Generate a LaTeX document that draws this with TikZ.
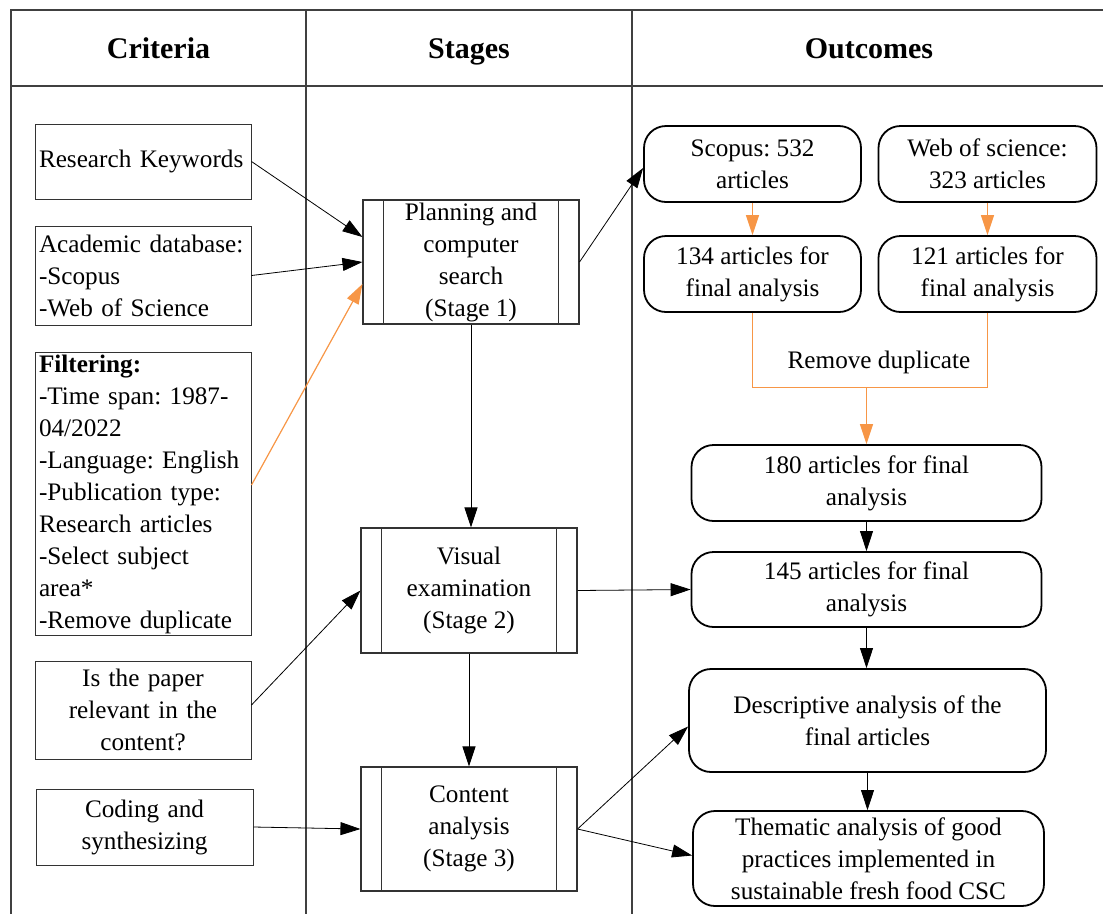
\documentclass[tikz,border=0pt]{standalone}
\usepackage{fontspec}
\setmainfont{Liberation Serif}
\usetikzlibrary{arrows.meta}
\definecolor{orng}{HTML}{F79646}
\definecolor{gridc}{HTML}{404040}
\begin{document}
\frenchspacing
\begin{tikzpicture}[x=1pt,y=-1pt,
  every node/.style={font=\fontsize{25.2pt}{32pt}\selectfont, inner sep=0pt},
  head/.style={font=\fontsize{30pt}{36pt}\selectfont\bfseries, anchor=base},
  lbox/.style={draw=black!80, line width=1pt, inner xsep=4pt, inner ysep=2pt},
  stagebox/.style={draw=black!80, line width=1.1pt, minimum width=216pt, align=center},
  obox/.style={draw=black, line width=1.8pt, rounded corners=22pt, align=center},
  conn/.style={-{Triangle[length=20pt,width=13pt]}, line width=0.8pt},
  oconn/.style={conn, draw=orng, line width=1.2pt},
  oline/.style={draw=orng, line width=1.2pt}]
\useasboundingbox (0,0) rectangle (1103,914);

% table
\draw[gridc, line width=1.1pt] (1103,10) -- (11,10) -- (11,914);
\draw[gridc, line width=1.1pt] (11,86) -- (1103,86);
\draw[gridc, line width=1.1pt] (306,10) -- (306,914);
\draw[gridc, line width=1.1pt] (632,10) -- (632,914);
\node[head] (hc) at (158.5,58) {Criteria};
\node[head] (hs) at (469,58) {Stages};
\node[head] (ho) at (869,58) {Outcomes};

% criteria
\node[lbox, minimum height=75pt, text width=208pt, align=left] (rk) at (143,161.5) {Research Keywords};
\node[lbox, minimum height=99pt, text width=208pt, align=left] (ad) at (143,275.5) {Academic database:\\-Scopus\\-Web of Science};
\node[lbox, inner ysep=0pt, minimum height=283pt, text width=208pt, align=left] (filt) at (143,494) {\textbf{Filtering:}\\-Time span: 1987-\\04/2022\\-Language: English\\-Publication type:\\Research articles\\-Select subject\\area*\\-Remove duplicate};
\node[lbox, minimum height=98pt, text width=208pt, align=center] (paper) at (143,710) {Is the paper\\relevant in the\\content?};
\node[lbox, minimum height=76pt, text width=209pt, align=center] (coding) at (144.5,827) {Coding and\\synthesizing};

% stages
\node[stagebox, minimum height=124pt] (s1) at (471,262) {Planning and\\computer\\search\\(Stage 1)};
\node[stagebox, minimum height=125pt] (s2) at (469,590.5) {Visual\\examination\\(Stage 2)};
\node[stagebox, minimum height=124pt] (s3) at (469,829) {Content\\analysis\\(Stage 3)};
\foreach \s in {s1,s2,s3}{
  \draw[black!80, line width=1pt] ([xshift=21pt]\s.north west) -- ([xshift=21pt]\s.south west);
  \draw[black!80, line width=1pt] ([xshift=-21pt]\s.north east) -- ([xshift=-21pt]\s.south east);
}

% outcomes
\node[obox, minimum width=217pt, minimum height=76pt] (scopus) at (752.5,164) {Scopus: 532\\articles};
\node[obox, minimum width=218pt, minimum height=76pt] (wos) at (987.5,164) {Web of science:\\323 articles};
\node[obox, minimum width=217pt, minimum height=76pt] (a134) at (752.5,274) {134 articles for\\final analysis};
\node[obox, minimum width=218pt, minimum height=76pt] (a121) at (987.5,274) {121 articles for\\final analysis};
\node (rdl) at (879,362) {Remove duplicate};
\coordinate (rdj) at (866.5,387.5);
\node[obox, minimum width=350pt, minimum height=76pt] (a180) at (866.5,483) {180 articles for final\\analysis};
\node[obox, minimum width=350pt, minimum height=75pt] (a145) at (866.5,589.5) {145 articles for final\\analysis};
\node[obox, minimum width=357pt, minimum height=103pt] (desc) at (867.5,720.5) {Descriptive analysis of the\\final articles};
\node[obox, minimum width=351pt, minimum height=95pt] (them) at (868.5,858.5) {Thematic analysis of good\\practices implemented in\\sustainable fresh food CSC};

% connectors
\draw[conn] (rk.east) -- ([yshift=25pt]s1.west);
\draw[conn] (ad.east) -- (s1.west);
\draw[oconn] ([yshift=9pt]filt.east) -- ([yshift=-22pt]s1.west);
\draw[conn] (s1.south) -- (s1.south |- s2.north);
\draw[conn] ([yshift=5pt]paper.east) -- (s2.west);
\draw[conn] (s2.south) -- (s3.north);
\draw[conn] (coding.east) -- (s3.west);
\draw[conn] (s1.east) -- ([yshift=-4pt]scopus.west);
\draw[conn] (s2.east) -- (a145.west);
\draw[conn] (s3.east) -- ([yshift=-6pt]desc.west);
\draw[conn] (s3.east) -- ([yshift=3pt]them.west);
\draw[oconn] (scopus.south) -- (a134.north);
\draw[oconn] (wos.south) -- (a121.north);
\draw[oline] (a134.south) |- (rdj);
\draw[oline] (a121.south) |- (rdj);
\draw[oconn] (a180.north |- rdj) -- (a180.north);
\draw[conn] (a180.south) -- (a145.north);
\draw[conn] (a145.south) -- (desc.north -| a145.south);
\draw[conn] (desc.south) -- (them.north -| desc.south);
\end{tikzpicture}
\end{document}
